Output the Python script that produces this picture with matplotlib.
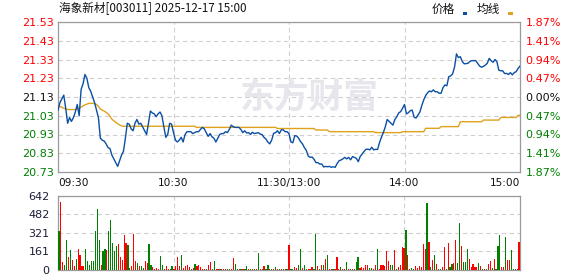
import numpy as np
import matplotlib
matplotlib.use('Agg')
import matplotlib.pyplot as plt
from matplotlib.patches import Rectangle

plt.rcParams['font.family'] = ['DejaVu Sans']

# ---- data ----
title = '海象新材[003011] 2025-12-17 15:00'
prev_close = 21.13
price_ticks = [21.53, 21.43, 21.33, 21.23, 21.13, 21.03, 20.93, 20.83, 20.73]
pct_labels = ['1.87%', '1.41%', '0.94%', '0.47%', '0.00%', '0.47%', '0.94%', '1.41%', '1.87%']
vol_ticks = [0, 161, 321, 482, 642]
time_pos = [0, 60, 120, 180, 240]
time_labels = ['09:30', '10:30', '11:30/13:00', '14:00', '15:00']

# minute prices, 09:30 .. 15:00 (241 points)
price = [
    21.06, 21.10, 21.12, 21.14, 21.07, 20.99, 21.02, 21.00, 21.02, 21.05,
    21.09, 21.03, 21.17, 21.20, 21.25, 21.23, 21.18, 21.16, 21.13, 21.10,
    21.06, 21.02, 20.91, 20.90, 20.895, 20.88, 20.86, 20.855, 20.82, 20.80,
    20.78, 20.76, 20.79, 20.82, 20.84, 20.91, 20.99, 20.985, 20.96, 20.95,
    20.99, 21.01, 20.985, 20.99, 20.97, 20.95, 20.93, 20.99, 21.055, 21.045,
    21.04, 21.025, 21.04, 21.05, 21.03, 20.97, 20.915, 20.93, 20.99, 20.985,
    20.94, 20.90, 20.89, 20.90, 20.915, 20.89, 20.93, 20.945, 20.945, 20.945,
    20.935, 20.94, 20.945, 20.945, 20.957, 20.968, 20.96, 20.94, 20.92, 20.935,
    20.918, 20.91, 20.89, 20.91, 20.93, 20.935, 20.935, 20.945, 20.94, 20.957,
    20.98, 20.972, 20.968, 20.968, 20.968, 20.957, 20.94, 20.95, 20.938, 20.94,
    20.93, 20.942, 20.935, 20.937, 20.94, 20.932, 20.93, 20.915, 20.906, 20.89,
    20.88, 20.90, 20.936, 20.94, 20.95, 20.935, 20.955, 20.955, 20.945, 20.945,
    20.935, 20.89, 20.886, 20.924, 20.922, 20.91, 20.892, 20.88, 20.86, 20.845,
    20.815, 20.808, 20.81, 20.798, 20.78, 20.78, 20.772, 20.773, 20.757, 20.76,
    20.758, 20.76, 20.755, 20.758, 20.755, 20.775, 20.79, 20.794, 20.80, 20.808,
    20.80, 20.808, 20.795, 20.812, 20.808, 20.802, 20.785, 20.813, 20.826, 20.84,
    20.851, 20.852, 20.848, 20.862, 20.848, 20.851, 20.85, 20.886, 20.915, 20.94,
    20.97, 21.01, 21.00, 20.99, 20.98, 21.01, 21.025, 21.045, 21.052, 21.07,
    21.09, 21.04, 21.046, 21.057, 21.06, 21.022, 21.018, 21.034, 21.05, 21.085,
    21.115, 21.138, 21.153, 21.162, 21.158, 21.168, 21.158, 21.158, 21.15, 21.15,
    21.18, 21.194, 21.19, 21.238, 21.243, 21.253, 21.29, 21.36, 21.34, 21.345,
    21.32, 21.307, 21.308, 21.31, 21.32, 21.324, 21.324, 21.324, 21.31, 21.295,
    21.289, 21.293, 21.30, 21.31, 21.336, 21.324, 21.315, 21.33, 21.318, 21.273,
    21.27, 21.27, 21.255, 21.256, 21.25, 21.26, 21.248, 21.26, 21.265, 21.282,
    21.295,
]

# average price line
avg = [
    21.082, 21.080, 21.075, 21.070, 21.066, 21.063, 21.063, 21.063, 21.063, 21.063,
    21.065, 21.070, 21.077, 21.082, 21.088, 21.092, 21.096, 21.096, 21.096, 21.095,
    21.090, 21.080, 21.066, 21.060, 21.055, 21.048, 21.040, 21.027, 21.012, 21.003,
    20.995, 20.988, 20.981, 20.976, 20.974, 20.974, 20.974, 20.974, 20.974, 20.974,
    20.974, 20.974, 20.974, 20.974, 20.974, 20.974, 20.974, 20.974, 20.974, 20.974,
    20.974, 20.974, 20.974, 20.974, 20.974, 20.974, 20.974, 20.974, 20.974, 20.974,
    20.974, 20.974, 20.974, 20.974, 20.974, 20.974, 20.974, 20.974, 20.974, 20.974,
    20.974, 20.974, 20.968, 20.968, 20.968, 20.968, 20.968, 20.968, 20.968, 20.968,
    20.968, 20.968, 20.968, 20.968, 20.968, 20.968, 20.968, 20.968, 20.968, 20.968,
    20.968, 20.968, 20.968, 20.968, 20.968, 20.968, 20.968, 20.968, 20.968, 20.968,
    20.968, 20.968, 20.968, 20.968, 20.968, 20.968, 20.968, 20.968, 20.968, 20.968,
    20.968, 20.968, 20.968, 20.968, 20.962, 20.962, 20.962, 20.962, 20.962, 20.962,
    20.962, 20.962, 20.962, 20.962, 20.962, 20.962, 20.962, 20.962, 20.962, 20.962,
    20.962, 20.962, 20.962, 20.962, 20.954, 20.954, 20.954, 20.954, 20.954, 20.954,
    20.954, 20.945, 20.945, 20.945, 20.945, 20.945, 20.945, 20.945, 20.945, 20.945,
    20.945, 20.945, 20.945, 20.945, 20.945, 20.945, 20.945, 20.945, 20.945, 20.945,
    20.945, 20.945, 20.945, 20.945, 20.945, 20.940, 20.940, 20.940, 20.940, 20.940,
    20.940, 20.940, 20.940, 20.940, 20.940, 20.940, 20.940, 20.940, 20.940, 20.945,
    20.945, 20.945, 20.945, 20.945, 20.945, 20.945, 20.945, 20.945, 20.945, 20.945,
    20.945, 20.963, 20.963, 20.963, 20.963, 20.963, 20.963, 20.963, 20.963, 20.972,
    20.972, 20.972, 20.972, 20.972, 20.972, 20.972, 20.972, 20.972, 20.972, 20.998,
    20.998, 20.998, 20.998, 20.998, 20.998, 20.998, 20.998, 20.998, 20.998, 20.998,
    20.998, 21.007, 21.007, 21.007, 21.007, 21.007, 21.007, 21.007, 21.007, 21.007,
    21.021, 21.021, 21.021, 21.021, 21.021, 21.021, 21.021, 21.021, 21.021, 21.032,
    21.032,
]

# minute volume (lots) and direction (1 = up/red, 0 = down/green)
vol = [
    340, 593, 69, 46, 262, 109, 176, 89, 32, 98,
    184, 127, 32, 37, 184, 75, 46, 81, 81, 340,
    530, 262, 46, 167, 184, 176, 340, 435, 233, 161,
    204, 225, 109, 89, 305, 230, 219, 17, 32, 314,
    75, 60, 32, 32, 17, 81, 58, 225, 46, 23,
    12, 17, 12, 118, 46, 12, 32, 12, 12, 32,
    12, 32, 109, 32, 127, 17, 32, 40, 23, 12,
    17, 55, 35, 40, 23, 12, 12, 12, 40, 66,
    12, 75, 12, 12, 12, 12, 12, 12, 12, 12,
    12, 104, 55, 12, 12, 12, 12, 12, 32, 12,
    12, 12, 12, 12, 150, 12, 12, 32, 12, 46,
    12, 12, 12, 23, 12, 12, 12, 12, 12, 12,
    219, 12, 12, 29, 17, 46, 184, 17, 46, 12,
    12, 12, 23, 12, 314, 32, 12, 46, 46, 98,
    132, 12, 12, 12, 12, 115, 12, 23, 12, 12,
    72, 12, 12, 12, 12, 72, 115, 17, 29, 17,
    40, 46, 17, 17, 12, 46, 184, 12, 40, 40,
    32, 161, 81, 46, 46, 170, 12, 23, 46, 196,
    190, 348, 127, 12, 17, 12, 37, 17, 32, 29,
    227, 184, 579, 242, 29, 89, 132, 55, 12, 12,
    29, 196, 12, 233, 29, 52, 63, 262, 63, 406,
    210, 72, 72, 184, 98, 23, 55, 23, 23, 60,
    37, 12, 12, 12, 55, 81, 17, 98, 12, 210,
    305, 29, 23, 282, 89, 89, 176, 12, 8, 8,
    239,
]
vol_up = [
    0, 1, 1, 0, 0, 1, 0, 1, 1, 0,
    1, 1, 1, 1, 0, 0, 0, 0, 0, 0,
    0, 0, 1, 0, 0, 1, 0, 0, 0, 0,
    0, 1, 1, 1, 1, 1, 0, 0, 1, 1,
    1, 0, 1, 0, 0, 1, 1, 0, 0, 1,
    1, 1, 1, 0, 0, 1, 1, 1, 0, 0,
    1, 1, 1, 1, 0, 1, 1, 1, 1, 0,
    1, 0, 1, 1, 1, 1, 1, 0, 1, 1,
    0, 0, 1, 1, 0, 1, 1, 0, 1, 0,
    1, 1, 0, 0, 1, 0, 1, 0, 0, 1,
    0, 1, 0, 1, 0, 1, 0, 1, 0, 0,
    1, 0, 1, 0, 1, 0, 1, 0, 1, 0,
    1, 0, 0, 1, 1, 0, 0, 1, 0, 0,
    1, 1, 1, 0, 0, 1, 0, 1, 0, 1,
    0, 1, 1, 0, 1, 1, 1, 0, 1, 1,
    0, 1, 0, 1, 0, 0, 0, 1, 1, 1,
    1, 1, 0, 0, 1, 1, 0, 1, 1, 1,
    1, 1, 1, 0, 0, 1, 0, 1, 1, 1,
    1, 0, 1, 1, 0, 0, 1, 1, 1, 1,
    1, 1, 0, 1, 0, 1, 0, 1, 0, 0,
    1, 1, 0, 1, 0, 0, 1, 1, 0, 0,
    1, 0, 0, 0, 1, 1, 1, 1, 1, 0,
    1, 0, 1, 0, 1, 1, 0, 1, 0, 0,
    0, 1, 1, 0, 1, 1, 0, 0, 0, 1,
    1,
]

RED = '#ff0000'
GREEN = '#008000'
GRID = '#cfcfcf'
BORDER = '#9a9a9a'

W, H = 578, 276
fig = plt.figure(figsize=(W / 100, H / 100), dpi=100)
fig.patch.set_facecolor('white')


def box(x0, y0, x1, y1):
    # pixel box (top-left origin) -> figure fraction rect
    return [x0 / W, 1 - y1 / H, (x1 - x0) / W, (y1 - y0) / H]


ax = fig.add_axes(box(58, 22, 520, 172))
axv = fig.add_axes(box(58, 196, 520, 270))

# ---- price panel ----
x = np.arange(len(price))
ax.plot(np.arange(len(avg)), avg, color='#e0a21c', lw=1.0, zorder=3)
ax.plot(x, price, color='#0a4fa3', lw=1.0, zorder=4)
ax.set_xlim(0, 240)
ax.set_ylim(price_ticks[-1], price_ticks[0])
ax.set_yticks(price_ticks)
ax.set_yticklabels([f'{v:.2f}' for v in price_ticks])
ax.set_xticks(time_pos)
ax.set_xticklabels(time_labels)
ax.tick_params(axis='y', length=0, pad=3, labelsize=8)
ax.tick_params(axis='x', length=0, pad=4, labelsize=7.6, colors='#111111')
xl = ax.get_xticklabels()
xl[0].set_ha('left')
xl[-1].set_ha('right')
for v, lab in zip(price_ticks, ax.get_yticklabels()):
    lab.set_color(RED if v > prev_close + 1e-9 else (GREEN if v < prev_close - 1e-9 else '#111111'))
ax.grid(True, color=GRID, linestyle=(0, (4, 3)), lw=0.8)
ax.set_axisbelow(True)
for s in ax.spines.values():
    s.set_color(BORDER)
    s.set_linewidth(0.9)

ax.text(0.545, 0.50, '东方财富', transform=ax.transAxes, ha='center', va='center',
        fontsize=25, fontweight='bold', color='#e6e6ec', family=['Noto Sans CJK SC'], zorder=1)

ax2 = ax.twinx()
ax2.set_ylim(ax.get_ylim())
ax2.set_yticks(price_ticks)
ax2.set_yticklabels(pct_labels)
ax2.tick_params(axis='y', length=0, pad=4, labelsize=8)
for v, lab in zip(price_ticks, ax2.get_yticklabels()):
    lab.set_color(RED if v > prev_close + 1e-9 else (GREEN if v < prev_close - 1e-9 else '#111111'))
for s in ax2.spines.values():
    s.set_visible(False)

# ---- volume panel ----
xv = np.arange(len(vol))
cols = [RED if u else GREEN for u in vol_up]
axv.bar(xv, vol, width=0.62, color=cols, linewidth=0, antialiased=False, zorder=3)
axv.set_xlim(-0.5, 240.5)
axv.set_ylim(0, vol_ticks[-1])
axv.set_yticks(vol_ticks)
axv.set_yticklabels([str(v) for v in vol_ticks])
axv.set_xticks(time_pos[1:-1])
axv.set_xticklabels([])
axv.tick_params(axis='y', length=0, pad=6, labelsize=8, colors='#1c1c38')
axv.tick_params(axis='x', length=0)
axv.grid(True, color=GRID, linestyle=(0, (4, 3)), lw=0.8)
axv.set_axisbelow(True)
for s in axv.spines.values():
    s.set_color(BORDER)
    s.set_linewidth(0.9)

# ---- header ----
cjk = ['Noto Sans CJK SC', 'DejaVu Sans']
fig.text(59 / W, 1 - 9 / H, title, ha='left', va='center', fontsize=8.4, family=cjk, color='#111111')
fig.text(432 / W, 1 - 9 / H, '价格', ha='left', va='center', fontsize=8.4, family=cjk, color='#111111')
fig.text(477 / W, 1 - 9 / H, '均线', ha='left', va='center', fontsize=8.4, family=cjk, color='#111111')
fig.add_artist(Rectangle((463 / W, 1 - 15 / H), 4 / W, 2.5 / H, transform=fig.transFigure,
                         color='#0a4fa3', lw=0))
fig.add_artist(Rectangle((508 / W, 1 - 15 / H), 5 / W, 2.5 / H, transform=fig.transFigure,
                         color='#e0a21c', lw=0))

fig.savefig('out.png', dpi=100)
